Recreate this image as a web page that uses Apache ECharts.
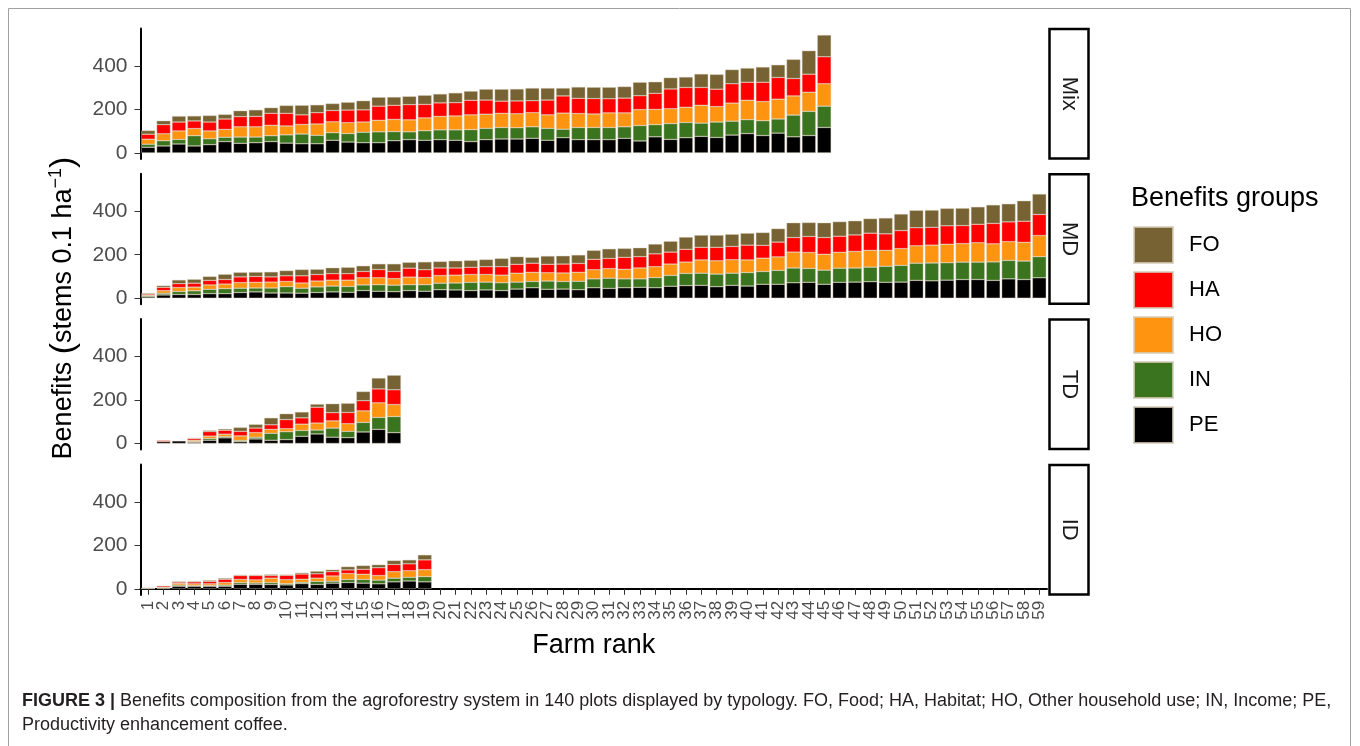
<!DOCTYPE html>
<html>
<head>
<meta charset="utf-8">
<script src="https://cdn.jsdelivr.net/npm/echarts@6/dist/echarts.min.js"></script>
<style>
  html, body { margin: 0; padding: 0; background: #fff; }
  #chart { width: 1360px; height: 746px; }
</style>
</head>
<body>
<div id="chart"></div>
<script>
// farm rank labels
var categories = ['1','2','3','4','5','6','7','8','9','10','11','12','13','14','15','16','17','18','19','20',
  '21','22','23','24','25','26','27','28','29','30','31','32','33','34','35','36','37','38','39','40',
  '41','42','43','44','45','46','47','48','49','50','51','52','53','54','55','56','57','58','59']
var yTicks = [0, 200, 400]
var facets = ['Mix', 'MD', 'TD', 'ID']
var groups = ['PE', 'IN', 'HO', 'HA', 'FO'] // stack order, bottom first

// Mix
var mixPE = [26,32,41,32,38,52,44,47,52,45,42,42,58,50,47,47,56,61,58,61,58,52,61,64,64,67,58,70,61,61,61,67,55,74,62,70,76,71,82,89,80,91,74,80,117]
var mixIN = [14,24,21,47,27,20,29,26,27,38,45,39,35,39,48,50,42,36,44,45,48,55,52,53,52,53,55,39,56,56,56,53,71,56,73,70,61,71,64,64,68,65,100,111,98]
var mixHO = [23,32,39,33,36,36,47,47,48,41,44,52,50,50,47,53,56,55,59,62,64,68,65,65,64,65,62,74,64,62,67,64,73,70,68,70,82,71,83,89,88,91,88,88,103]
var mixHA = [23,42,41,35,41,48,47,48,55,58,44,52,52,58,56,65,65,70,62,62,61,67,65,56,59,55,68,79,70,71,65,68,64,74,91,91,82,80,89,83,89,100,80,83,124]
var mixFO = [17,18,27,23,30,21,27,30,26,36,44,36,32,36,42,41,38,38,42,41,45,42,50,55,55,58,55,36,52,52,53,53,62,53,52,48,62,68,65,65,70,58,88,108,100]
// MD
var mdPE = [6,15,17,17,21,21,26,29,24,24,23,26,29,27,35,32,30,35,32,39,38,35,38,35,42,48,41,42,39,48,45,48,50,48,55,58,59,53,59,56,64,64,71,73,64,73,74,76,73,74,82,80,83,86,86,82,89,86,94]
var mdIN = [5,8,14,17,20,23,20,18,23,29,23,26,27,27,26,30,30,27,30,30,32,38,36,36,32,29,38,35,39,41,47,41,39,47,50,56,56,58,56,62,59,64,68,64,65,65,65,67,74,77,79,82,80,80,80,85,85,85,97]
var mdHO = [4,12,18,17,20,21,26,26,27,24,24,27,27,29,33,32,30,35,33,35,36,36,35,35,41,42,38,39,41,42,44,44,50,50,52,52,61,61,62,58,61,62,73,73,73,73,76,77,73,77,80,82,85,85,89,83,86,86,97]
var mdHA = [5,15,18,18,21,21,26,27,24,26,33,30,30,30,29,38,33,41,36,35,33,33,36,39,41,42,39,41,41,48,47,55,52,59,55,59,58,62,61,68,59,68,67,74,77,74,76,79,76,83,83,82,85,83,85,94,91,97,97]
var mdFO = [4,8,17,18,18,24,21,20,23,24,29,24,27,29,26,26,35,27,36,30,33,32,33,38,35,27,38,38,39,41,44,41,41,45,50,56,56,56,56,55,59,62,68,64,68,67,65,67,73,76,80,79,80,80,80,85,83,94,94]
// TD
var tdPE = [0,9,12,6,15,26,8,21,15,18,33,44,29,27,53,65,50]
var tdIN = [0,0,0,3,8,6,6,8,32,36,27,18,42,29,44,55,74]
var tdHO = [0,0,0,6,11,11,21,21,18,14,29,32,33,35,53,67,55]
var tdHA = [0,5,0,8,21,18,21,21,21,42,29,73,38,52,47,64,68]
var tdFO = [0,0,0,2,5,6,18,17,32,27,27,14,41,42,42,50,67]
// ID
var idPE = [1,2,12,12,12,12,21,21,20,18,24,20,26,29,26,23,32,36,32]
var idIN = [0,3,5,3,3,5,8,6,9,6,6,14,9,14,17,17,17,17,24]
var idHO = [0,3,8,8,8,12,14,14,20,18,14,15,24,27,24,21,30,30,32]
var idHA = [1,6,6,9,11,15,18,20,12,20,24,20,20,17,23,36,33,32,45]
var idFO = [2,0,3,3,5,5,3,3,5,3,6,12,9,15,17,14,18,18,23]

var facetData = {
  Mix: { PE: mixPE, IN: mixIN, HO: mixHO, HA: mixHA, FO: mixFO },
  MD: { PE: mdPE, IN: mdIN, HO: mdHO, HA: mdHA, FO: mdFO },
  TD: { PE: tdPE, IN: tdIN, HO: tdHO, HA: tdHA, FO: tdFO },
  ID: { PE: idPE, IN: idIN, HO: idHO, HA: idHA, FO: idFO }
}
var colors = { FO: '#766232', HA: '#ff0000', HO: '#ff9410', IN: '#3b741e', PE: '#000000' }

var font = '"Liberation Sans", Arial, Helvetica, sans-serif'
var plotLeft = 140.5
var plotWidth = 906.5
var panelTop = 28.5
var panelStep = 145.3
var panelHeight = 130.5

var chart = echarts.init(document.getElementById('chart'), null, { renderer: 'canvas' })

var grids = []
var xAxes = []
var yAxes = []
var series = []
var graphics = []

facets.forEach(function (f, i) {
  var top = panelTop + i * panelStep
  var last = i === facets.length - 1
  grids.push({ left: plotLeft, width: plotWidth, top: top, height: panelHeight, containLabel: false })
  xAxes.push({
    gridIndex: i,
    type: 'category',
    data: categories,
    boundaryGap: true,
    axisLine: { show: last, lineStyle: { color: '#000', width: 2 } },
    axisTick: { show: last, alignWithLabel: true, interval: 0, length: 6, lineStyle: { color: '#333', width: 1 } },
    axisLabel: { show: last, interval: 0, rotate: 90, fontSize: 17, color: '#4d4d4d', margin: 6, fontFamily: font },
    splitLine: { show: false }
  })
  yAxes.push({
    gridIndex: i,
    type: 'value',
    min: -28,
    max: 572,
    axisLine: { show: true, lineStyle: { color: '#000', width: 2 } },
    axisTick: { show: true, length: 6, customValues: yTicks, lineStyle: { color: '#333', width: 1 } },
    axisLabel: { fontSize: 21, color: '#4d4d4d', margin: 13, fontFamily: font, customValues: yTicks },
    splitLine: { show: false }
  })
  groups.forEach(function (g) {
    series.push({
      name: g,
      type: 'bar',
      stack: f,
      xAxisIndex: i,
      yAxisIndex: i,
      barWidth: '90%',
      // a zero value means no bar at all
      data: facetData[f][g].map(function (v) { return v === 0 ? null : v }),
      itemStyle: { color: colors[g], borderColor: 'rgba(215,205,185,0.8)', borderWidth: 0.5 },
      emphasis: { disabled: true },
      animation: false
    })
  })
  // strip on the right
  graphics.push({
    type: 'rect',
    shape: { x: 1049.5, y: top + 0.5, width: 39, height: panelHeight - 1 },
    style: { fill: '#fff', stroke: '#000', lineWidth: 2.5 }
  })
  graphics.push({
    type: 'text',
    x: 1069, y: top + panelHeight / 2,
    rotation: -Math.PI / 2,
    style: { text: f, fontSize: 22, fontFamily: font, fill: '#1a1a1a', align: 'center', verticalAlign: 'middle' }
  })
})

// axis titles
graphics.push({
  type: 'text',
  x: 64, y: 308,
  rotation: Math.PI / 2,
  style: {
    text: 'Benefits {p|(}stems 0.1 ha{s|−1}{p|)}',
    fontSize: 27, fontFamily: font, fill: '#000', align: 'center', verticalAlign: 'middle',
    rich: {
      p: { fontSize: 34, fontFamily: font, fill: '#000' },
      s: { fontSize: 18, fontFamily: font, fill: '#000', padding: [0, 0, 16, 0] }
    }
  }
})
graphics.push({
  type: 'text',
  x: plotLeft + plotWidth / 2, y: 646,
  style: { text: 'Farm rank', fontSize: 27, fontFamily: font, fill: '#000', align: 'center', verticalAlign: 'middle' }
})
graphics.push({
  type: 'text',
  x: 1131, y: 199,
  style: { text: 'Benefits groups', fontSize: 27, fontFamily: font, fill: '#000', align: 'left', verticalAlign: 'middle' }
})
// caption
graphics.push({
  type: 'text',
  x: 22, y: 701,
  style: {
    text: '{b|FIGURE 3 |} Benefits composition from the agroforestry system in 140 plots displayed by typology. FO, Food; HA, Habitat; HO, Other household use; IN, Income; PE,',
    fontSize: 18, fontFamily: font, fill: '#231f20', align: 'left', verticalAlign: 'middle',
    rich: { b: { fontSize: 18, fontWeight: 'bold', fontFamily: font, fill: '#231f20' } }
  }
})
graphics.push({
  type: 'text',
  x: 22, y: 725,
  style: { text: 'Productivity enhancement coffee.', fontSize: 18, fontFamily: font, fill: '#231f20', align: 'left', verticalAlign: 'middle' }
})
// figure frame
graphics.push({
  type: 'rect',
  shape: { x: 8.5, y: 8.5, width: 1342, height: 800 },
  style: { fill: 'none', stroke: '#a0a0a0', lineWidth: 1 },
  z: -1
})

var option = {
  backgroundColor: '#fff',
  animation: false,
  grid: grids,
  xAxis: xAxes,
  yAxis: yAxes,
  legend: {
    data: ['FO', 'HA', 'HO', 'IN', 'PE'],
    orient: 'vertical',
    left: 1133,
    top: 226,
    padding: 0,
    itemWidth: 39,
    itemHeight: 36,
    itemGap: 7,
    icon: 'rect',
    selectedMode: false,
    textStyle: { fontSize: 22, color: '#000', fontFamily: font, padding: [0, 0, 0, 11] }
  },
  series: series,
  graphic: graphics
}
chart.setOption(option)
</script>
</body>
</html>
